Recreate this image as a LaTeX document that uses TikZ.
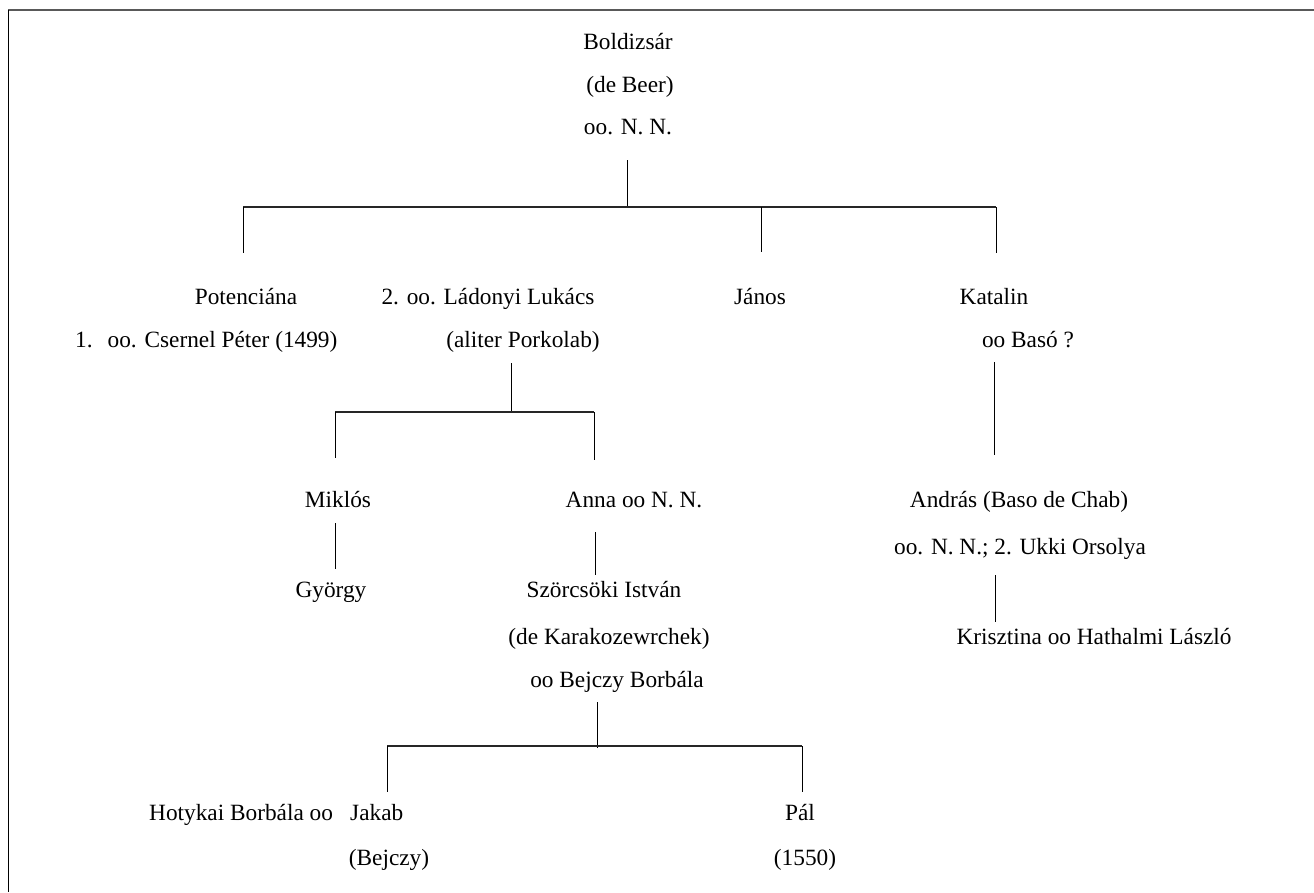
\documentclass[tikz,border=0pt]{standalone}
\usepackage{fontspec}
\setmainfont{Liberation Serif}
\begin{document}
\begin{tikzpicture}[x=1pt,y=-1pt,
  person/.style={inner sep=0pt,anchor=base,font=\fontsize{23.3}{28}\selectfont},
  personw/.style={person,anchor=base west},
  link/.style={line width=1pt,black},
  bar/.style={line width=1.3pt,black!85}]
\useasboundingbox (0,0) rectangle (1314,892);
\path[fill=white] (0,0) rectangle (1314,892);
% frame (top and left only)
\coordinate (fl) at (8,10);
\coordinate (fr) at (1314,10);
\coordinate (fb) at (8,892);
\draw[line width=1.6pt,black!65] (fl) -- (fr);
\draw[line width=1pt,black] (fl) -- (fb);

% generation 1
\node[person] (bold) at (628,49) {Boldizsár};
\node[person] (bold2) at (630,92) {(de Beer)};
\node[person] (bold3) at (628,134) {oo. N. N.};

% generation 2
\node[person] (poten) at (246,304) {Potenciána};
\node[person] (lukacs) at (488,304) {2. oo. Ládonyi Lukács};
\node[person] (janos) at (760,304) {János};
\node[person] (katalin) at (994,304) {Katalin};
\node[personw] (csernel) at (75,347) {1.\hspace{15pt}oo. Csernel Péter (1499)};
\node[person] (lukacs2) at (523,347) {(aliter Porkolab)};
\node[person] (baso) at (1028,347) {oo Basó ?};

% generation 3
\node[person] (miklos) at (338,507) {Miklós};
\node[person] (anna) at (634,507) {Anna oo N. N.};
\node[person] (andras) at (1019,507) {András (Baso de Chab)};
\node[person] (andras2) at (1020,554) {oo. N. N.; 2. Ukki Orsolya};

% generation 4
\node[person] (gyorgy) at (331,597) {György};
\node[person] (istvan) at (604,597) {Szörcsöki István};
\node[person] (istvan2) at (609,644) {(de Karakozewrchek)};
\node[person] (istvan3) at (617,687) {oo Bejczy Borbála};
\node[person] (krisztina) at (1094,644) {Krisztina oo Hathalmi László};

% generation 5
\node[personw] (hotykai) at (149,820) {Hotykai Borbála oo};
\node[personw] (jakab) at (350,820) {Jakab};
\node[person] (jakab2) at (389,865) {(Bejczy)};
\node[person] (pal) at (800,820) {Pál};
\node[person] (pal2) at (805,865) {(1550)};

% connectors: Boldizsar
\coordinate (b0) at (627,160);
\coordinate (b1) at (627,207);
\coordinate (bl) at (243,207);
\coordinate (br) at (996,207);
\coordinate (bj) at (761,207);
\coordinate (pt) at (243,253);
\coordinate (jt) at (761,252);
\coordinate (kt) at (996,253);
\draw[link] (b0) -- (b1);
\draw[bar] (bl) -- (br);
\draw[link] (bl) -- (pt);
\draw[link] (bj) -- (jt);
\draw[link] (br) -- (kt);

% connectors: Lukacs
\coordinate (l0) at (511,363);
\coordinate (l1) at (511,412);
\coordinate (ll) at (335,412);
\coordinate (lr) at (594,412);
\coordinate (mt) at (335,458);
\coordinate (at) at (594,460);
\draw[link] (l0) -- (l1);
\draw[bar] (ll) -- (lr);
\draw[link] (ll) -- (mt);
\draw[link] (lr) -- (at);

% Miklos -> Gyorgy, Anna -> Istvan
\coordinate (m0) at (335,523);
\coordinate (m1) at (335,569);
\draw[link] (m0) -- (m1);
\coordinate (a0) at (595,532);
\coordinate (a1) at (595,575);
\draw[link] (a0) -- (a1);

% Katalin -> Andras -> Krisztina
\coordinate (k0) at (994,362);
\coordinate (k1) at (994,455);
\draw[link] (k0) -- (k1);
\coordinate (n0) at (995,575);
\coordinate (n1) at (995,622);
\draw[link] (n0) -- (n1);

% Istvan's children
\coordinate (s0) at (597,702);
\coordinate (s1) at (597,748);
\coordinate (sl) at (387,746);
\coordinate (sr) at (802,746);
\coordinate (jk) at (387,792);
\coordinate (pl) at (802,792);
\draw[link] (s0) -- (s1);
\draw[bar] (sl) -- (sr);
\draw[link] (sl) -- (jk);
\draw[link] (sr) -- (pl);
\end{tikzpicture}
\end{document}
